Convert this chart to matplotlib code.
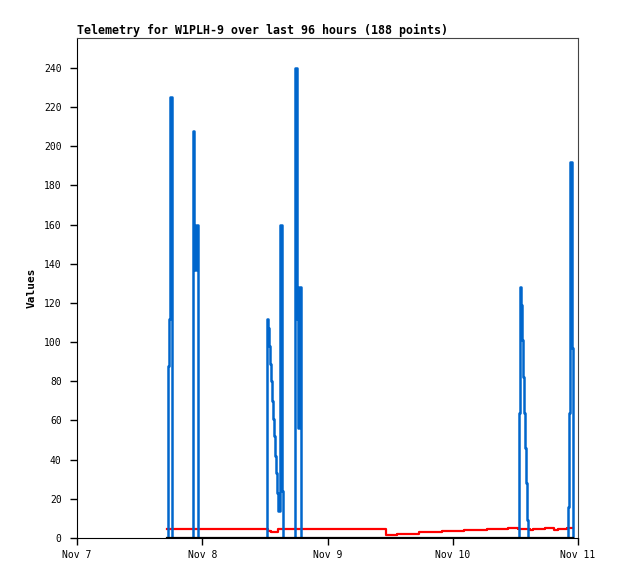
import matplotlib
matplotlib.use('Agg')
import matplotlib.pyplot as plt

# hours since Nov 7 00:00
day_ticks = [0, 24, 48, 72, 96]
day_labels = ['Nov 7', 'Nov 8', 'Nov 9', 'Nov 10', 'Nov 11']

# blue series (steps)
blue_t = [17.25, 17.44, 17.63, 17.82, 18.20,
          22.23, 22.51, 22.74, 23.13,
          36.35, 36.47, 36.66, 36.85, 37.04, 37.23, 37.42, 37.61, 37.80, 37.99, 38.18, 38.37, 38.56, 38.91, 39.23, 39.40,
          41.77, 42.16, 42.35, 42.60, 42.86,
          84.76, 84.95, 85.14, 85.33, 85.52, 85.71, 85.90, 86.09, 86.28, 86.48,
          94.15, 94.34, 94.48, 94.80, 94.99]
blue_v = [0, 88, 112, 225, 0,
          208, 137, 160, 0,
          56, 112, 107, 98, 89, 80, 70, 61, 52, 42, 33, 23, 14, 160, 24, 0,
          240, 112, 56, 128, 0,
          64, 128, 119, 101, 82, 64, 46, 28, 9, 0,
          16, 64, 192, 97, 0]

# red series (steps)
red_t = [17.25, 36.66, 37.12, 38.57, 59.21, 61.32, 65.53, 69.88, 74.16, 78.51, 82.59, 84.50, 86.80, 87.38, 89.68, 91.40, 92.17, 93.84, 94.99]
red_v = [4.8, 3.7, 3.0, 4.8, 1.7, 2.2, 2.9, 3.4, 3.9, 4.4, 4.9, 4.4, 3.9, 4.4, 4.9, 3.9, 4.4, 4.9, 4.9]

# black series
black_t = [17.25, 94.99]
black_v = [0, 0]

fig = plt.figure(figsize=(6.18, 5.79), dpi=100)
ax = fig.add_axes([77/618, 1-538/579, 501/618, 500/579])

ax.plot(red_t, red_v, drawstyle='steps-post', color='#ff0000', lw=1.6)
ax.plot(blue_t, blue_v, drawstyle='steps-post', color='#0066cc', lw=1.8)
ax.plot(black_t, black_v, color='black', lw=1.6, zorder=5)

ax.set_xlim(0, 96)
ax.set_ylim(0, 255.3)
ax.set_xticks(day_ticks)
ax.set_xticklabels(day_labels)
ax.set_yticks(range(0, 241, 20))

mono = 'DejaVu Sans Mono'
for lab in ax.get_xticklabels() + ax.get_yticklabels():
    lab.set_family(mono)
    lab.set_fontsize(7)
ax.tick_params(axis='both', direction='out', length=5, width=1, color='black')
ax.tick_params(axis='y', pad=6)
ax.tick_params(axis='x', pad=4)

ax.spines['left'].set_color('black')
ax.spines['bottom'].set_color('black')
ax.spines['top'].set_color('#444444')
ax.spines['right'].set_color('#444444')

ax.set_ylabel('Values', family=mono, fontweight='bold', fontsize=8, labelpad=5)
ax.set_title('Telemetry for W1PLH-9 over last 96 hours (188 points)', family=mono,
             fontweight='bold', fontsize=8.35, loc='left', pad=3)

fig.savefig('out.png', dpi=100)
